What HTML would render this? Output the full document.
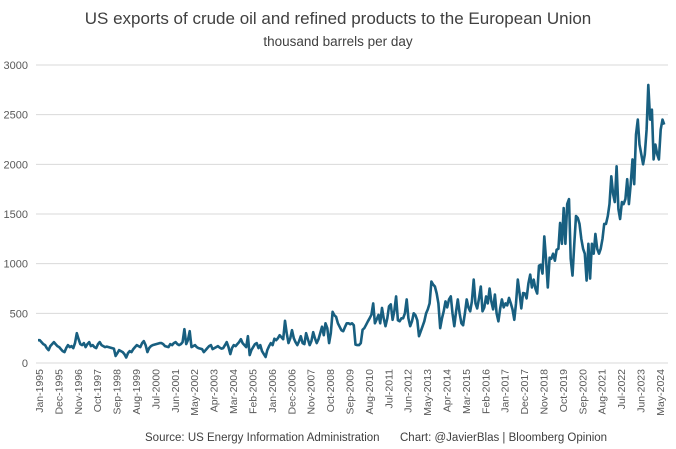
<!DOCTYPE html>
<html><head><meta charset="utf-8">
<style>
body{margin:0;background:#fff;}
svg{display:block;font-family:"Liberation Sans",sans-serif;}
</style></head>
<body>
<svg id="chart" width="676" height="449" viewBox="0 0 676 449">
<text x="338" y="24" text-anchor="middle" font-size="17" fill="#404040">US exports of crude oil and refined products to the European Union</text>
<text x="338" y="46" text-anchor="middle" font-size="13.5" fill="#404040">thousand barrels per day</text>
<g id="grid"></g><g id="yticks"></g><g id="xticks"></g><g id="series"></g>
<text x="145" y="441" font-size="11.5" fill="#404040">Source: US Energy Information Administration</text>
<text x="400" y="441" font-size="11.5" fill="#404040">Chart: @JavierBlas | Bloomberg Opinion</text>
</svg>
<script>
const yTicks=[0,500,1000,1500,2000,2500,3000];
const xTickLabels=["Jan-1995","Dec-1995","Nov-1996","Oct-1997","Sep-1998","Aug-1999","Jul-2000","Jun-2001","May-2002","Apr-2003","Mar-2004","Feb-2005","Jan-2006","Dec-2006","Nov-2007","Oct-2008","Sep-2009","Aug-2010","Jul-2011","Jun-2012","May-2013","Apr-2014","Mar-2015","Feb-2016","Jan-2017","Dec-2017","Nov-2018","Oct-2019","Sep-2020","Aug-2021","Jul-2022","Jun-2023","May-2024"];
const exportsKbd=[
230,230,210,190,180,150,130,170,190,210,190,170,
160,140,120,110,150,180,160,170,150,200,300,240,
190,180,200,160,190,210,170,180,160,150,190,210,
180,170,160,165,160,155,150,145,70,100,130,120,
110,90,55,100,120,110,140,160,180,170,160,200,
220,180,110,150,170,180,185,190,195,200,200,190,
170,165,160,190,180,200,210,190,180,190,210,340,
190,230,320,160,170,180,160,150,145,140,110,130,
150,170,180,140,150,160,170,155,145,150,180,210,
160,90,150,180,170,190,210,240,200,180,160,270,
80,130,160,190,200,150,180,120,90,60,130,170,
200,180,245,230,250,280,260,240,425,300,200,250,
330,250,210,180,220,270,200,190,300,240,180,220,
310,250,200,240,300,365,280,400,350,200,300,515,
480,465,400,365,330,320,360,400,400,390,400,380,
185,180,180,200,335,350,385,420,450,485,600,400,
440,485,400,555,450,370,450,570,590,435,520,670,
430,420,450,450,500,640,450,370,420,500,480,430,
270,320,370,420,500,540,600,820,790,770,700,600,
350,450,520,620,560,640,670,500,370,520,640,500,
400,380,500,640,560,520,620,840,600,550,650,770,
520,560,670,600,750,620,540,690,500,420,550,640,
560,600,580,655,600,540,435,600,840,700,550,705,
700,650,800,890,760,840,750,700,980,990,900,1275,
1050,760,1060,1050,1100,1030,1140,1150,1410,1200,1560,1200,
1600,1650,1050,880,1200,1480,1460,1400,1250,1150,1100,830,
1200,850,1200,1100,1300,1150,1100,1150,1250,1400,1400,1480,
1600,1880,1700,1620,1980,1550,1450,1620,1600,1650,1850,1600,
1800,2050,1800,2300,2450,2200,2100,2000,2100,2350,2800,2450,
2550,2050,2200,2100,2050,2350,2450,2400];
const NS="http://www.w3.org/2000/svg";
const X0=38,DX=1.764,Y0=363,YS=298/3000;
function xs(i){return X0+i*DX;}
function ys(v){return Y0-v*YS;}
const grid=document.getElementById('grid'),yt=document.getElementById('yticks'),xt=document.getElementById('xticks'),ser=document.getElementById('series');
yTicks.forEach(v=>{
 const l=document.createElementNS(NS,'line');
 
 
 l.setAttribute('x1',36);l.setAttribute('x2',668);l.setAttribute('y1',ys(v));l.setAttribute('y2',ys(v));
 l.setAttribute('stroke','#d9d9d9');l.setAttribute('stroke-width','1');
 grid.appendChild(l);
 const t=document.createElementNS(NS,'text');
 
 
 t.setAttribute('x',28);t.setAttribute('y',ys(v)+4);t.setAttribute('text-anchor','end');
 t.setAttribute('font-size','11');t.setAttribute('fill','#595959');t.textContent=v;
 yt.appendChild(t);
});
xTickLabels.forEach((lab,k)=>{
 const x=xs(k*11)+1;
 const t=document.createElementNS(NS,'text');
 
 
 t.setAttribute('transform','translate('+(x+4)+',369) rotate(-90)');
 t.setAttribute('text-anchor','end');t.setAttribute('font-size','10.5');t.setAttribute('fill','#595959');
 t.textContent=lab;xt.appendChild(t);
});
const p=document.createElementNS(NS,'polyline');


p.setAttribute('points',exportsKbd.map((v,i)=>xs(i).toFixed(1)+','+ys(v).toFixed(1)).join(' '));
p.setAttribute('fill','none');p.setAttribute('stroke','#185f80');p.setAttribute('stroke-width','2.6');p.setAttribute('stroke-linejoin','round');
ser.appendChild(p);
</script>
</body></html>
